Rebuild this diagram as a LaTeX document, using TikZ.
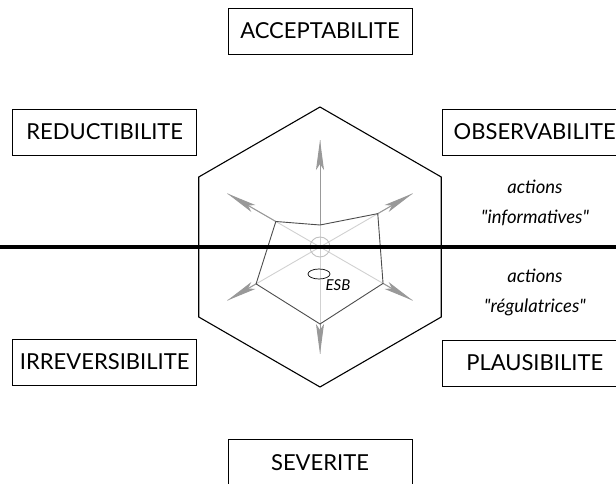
\documentclass[tikz,border=0pt]{standalone}
\usepackage{fontspec}
\setmainfont{Lato}
\newfontfamily\latodroit{Lato}
\usetikzlibrary{arrows.meta,shapes.geometric,calc}

\begin{document}
\begin{tikzpicture}[x=1pt,y=1pt,
	critere/.style={draw,line width=0.9pt,minimum width=184,minimum height=46,inner sep=0pt,font=\fontsize{22}{22}\selectfont},
	rayon/.style={draw=black!40,line width=1pt,-{Stealth[length=30pt,width=8pt,inset=6pt,fill=black!40]}},
	actions/.style={align=center,font=\latodroit\itshape\fontsize{18.5}{30}\selectfont}
	]
	\clip (0,0) rectangle (616,484);
	
	% centre du radar
	\coordinate (c) at (320,237);
	\foreach \a/\r in {30/66.7,90/22,150/51,210/73.8,270/77,330/72.8}{
		\coordinate (t\a) at ($(320,237)+(\a:107)$);
		\coordinate (p\a) at ($(320,237)+(\a:\r)$);
	}
	
	\foreach \a in {30,90,...,330}{
		\draw[black!18,line width=0.9pt] (c) -- (t\a);
	}
	\draw[black!25,line width=0.9pt] (c) circle (10);
	\foreach \a in {30,90,...,330}{
		\draw[rayon] (p\a) -- (t\a);
	}
	\draw[black!70,line width=0.9pt] (p30) -- (p90) -- (p150) -- (p210) -- (p270) -- (p330) -- cycle;
	
	% hexagone
	\draw[line width=1.1pt,shift={(320,237)}] (30:140) \foreach \a in {90,150,...,330}{ -- (\a:140)} -- cycle;
	
	% ligne de separation
	\coordinate (g) at (0,237);
	\coordinate (d) at (616,237);
	\draw[line width=3.5pt] (g) -- (d);
	
	\node[draw,ellipse,line width=0.7pt,minimum width=22,minimum height=10,inner sep=0pt] (esb) at (319,210) {};
	\node[font=\itshape\fontsize{15}{15}\selectfont] (esbtxt) at (338,199) {ESB};
	
	% criteres
	\node[critere] (acc) at (320,453) {ACCEPTABILITE};
	\node[critere] (red) at (104.7,352) {REDUCTIBILITE};
	\node[critere] (obs) at (534.7,352) {OBSERVABILITE};
	\node[critere] (irr) at (104.7,122) {IRREVERSIBILITE};
	\node[critere] (pla) at (534.7,121) {PLAUSIBILITE};
	\node[critere] (sev) at (320,21.5) {SEVERITE};
	
	\node[actions] (info) at (535,281) {actions\\"informatives"};
	\node[actions] (regu) at (535,192) {actions\\"régulatrices"};
	
\end{tikzpicture}
\end{document}
